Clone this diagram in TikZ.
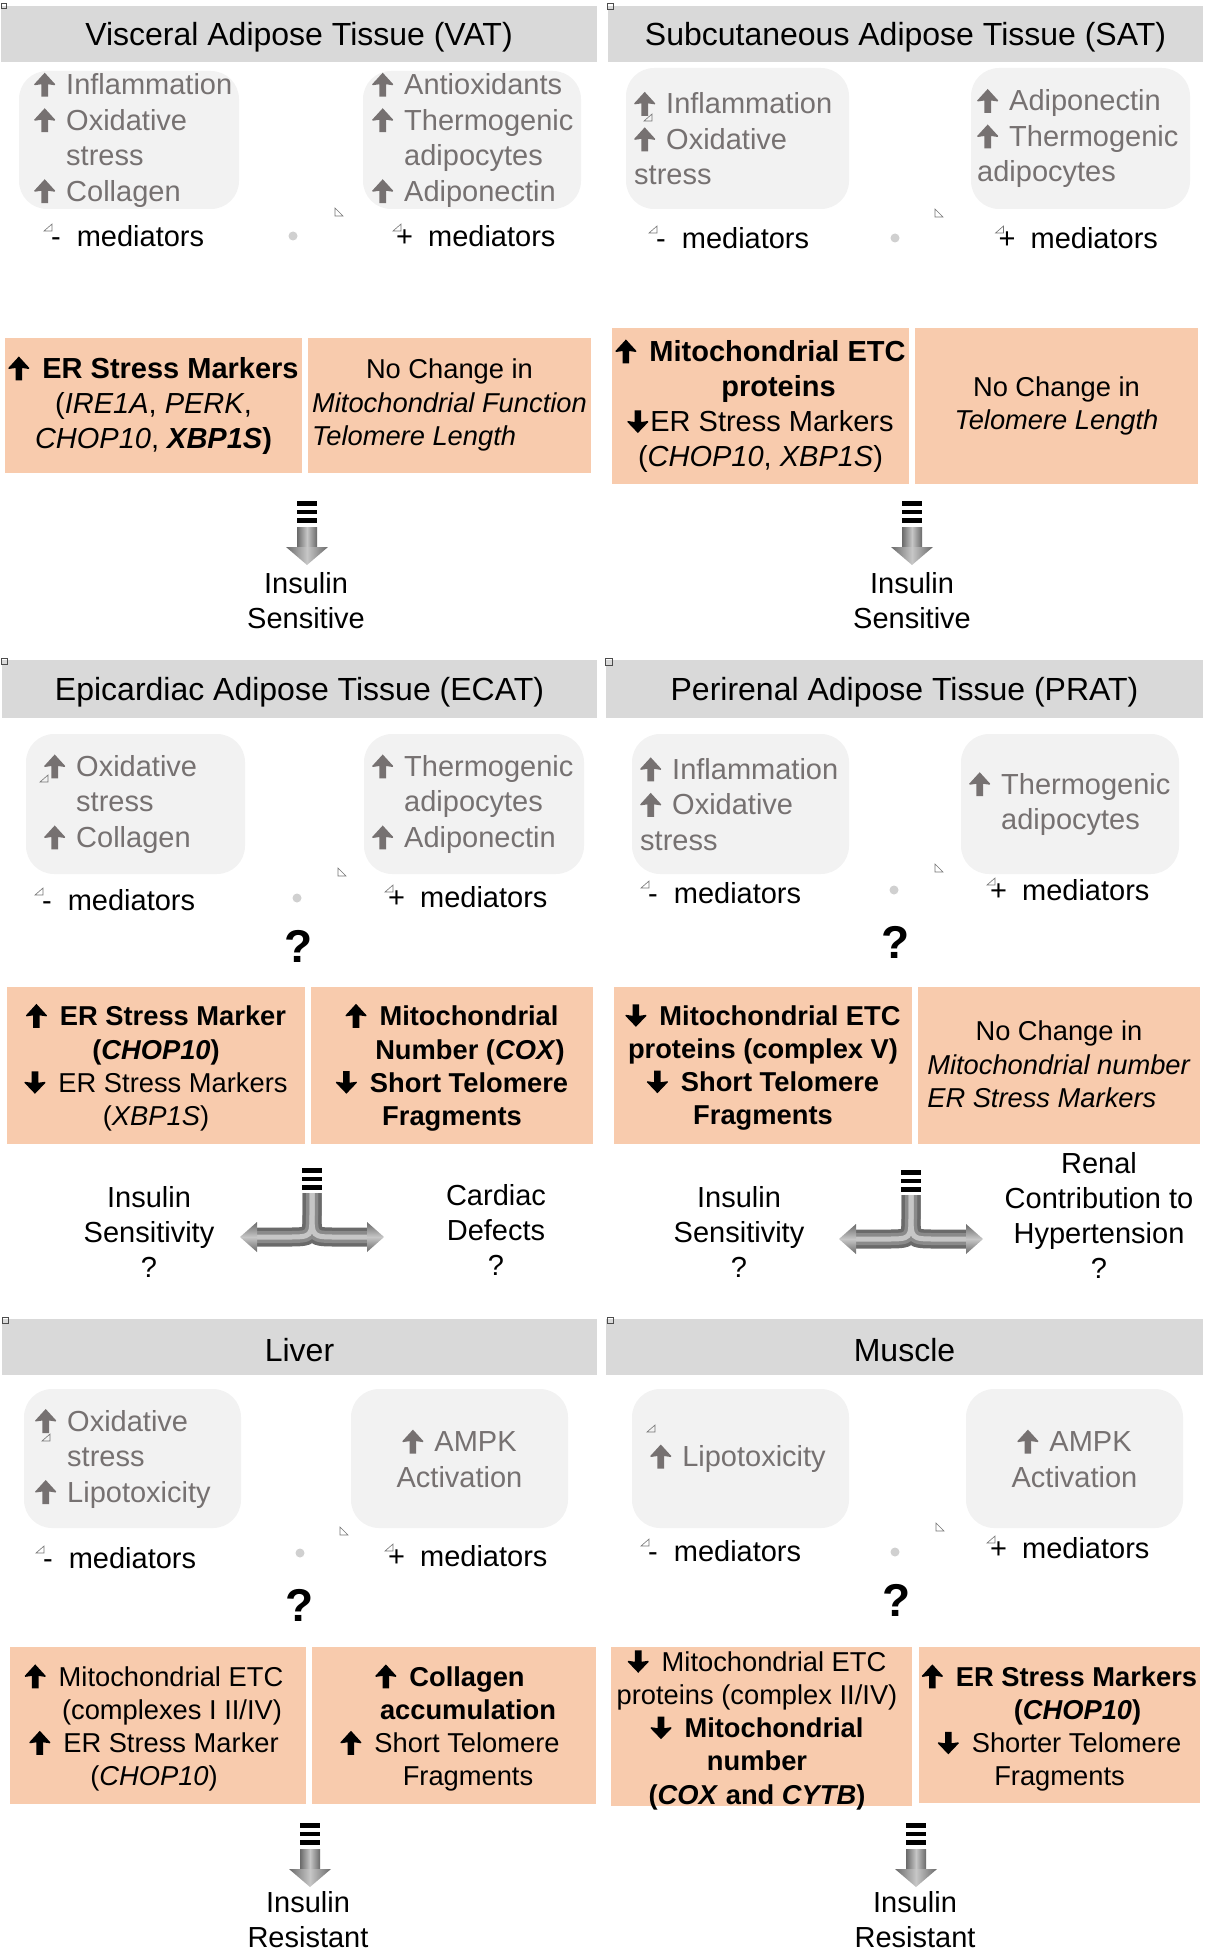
\documentclass[tikz,border=0pt]{standalone}
\usepackage{fontspec}
\setmainfont{Liberation Sans}
\usetikzlibrary{fit,calc}
\definecolor{hdrgray}{HTML}{D9D9D9}
\definecolor{boxgray}{HTML}{F2F2F2}
\definecolor{txtgray}{HTML}{767171}
\definecolor{peach}{HTML}{F8CBAD}
\definecolor{dotgray}{HTML}{D0D0D0}
\definecolor{arrdark}{HTML}{6A6A6A}
\definecolor{arrmid}{HTML}{8A8A8A}
\definecolor{arrlight}{HTML}{C6C6C6}
\newsavebox\upG
\newsavebox\upK
\newsavebox\dnK
\newcommand\ug{\usebox\upG\hspace{11pt}}
\newcommand\uk{\usebox\upK\hspace{13pt}}
\newcommand\dk{\usebox\dnK\hspace{13pt}}
\newcommand\pp[2]{\pgfpathlineto{\pgfpoint{#1pt}{#2pt}}}
\newcommand\uparrowglyph[1]{%
  \begin{pgfpicture}\pgfsetbaseline{0pt}\pgfsetfillcolor{#1}%
  \pgfpathmoveto{\pgfpoint{7.2pt}{-2pt}}\pp{13.8}{-2}\pp{13.8}{10.5}\pp{20.5}{9.5}\pp{21}{10.5}\pp{10.5}{22}\pp{0}{10.5}\pp{0.5}{9.5}\pp{7.2}{10.5}%
  \pgfpathclose\pgfusepath{fill}\end{pgfpicture}}
\newcommand\downarrowglyph[1]{%
  \begin{pgfpicture}\pgfsetbaseline{0pt}\pgfsetfillcolor{#1}%
  \pgfpathmoveto{\pgfpoint{7.2pt}{21pt}}\pp{13.8}{21}\pp{13.8}{9.5}\pp{20.5}{10.5}\pp{21}{9.5}\pp{10.5}{-1.5}\pp{0}{9.5}\pp{0.5}{10.5}\pp{7.2}{9.5}%
  \pgfpathclose\pgfusepath{fill}\end{pgfpicture}}
\newcommand\stripes{%
  \fill[black] (-10,0) rectangle (10,4.5);
  \fill[black] (-10,8.5) rectangle (10,13);
  \fill[black] (-10,17) rectangle (10,21.5);}
\newcommand\downarrowat[1]{%
  \begin{scope}[shift={(#1)}]
  \stripes
  \shade[left color=arrdark,right color=arrdark,middle color=arrlight] (-10,26) rectangle (10,46.5);
  \shade[left color=arrdark,right color=arrdark,middle color=arrlight] (-21,46) -- (21,46) -- (0,64) -- cycle;
  \end{scope}}
\newcommand\brancharrowat[1]{%
  \begin{scope}[shift={(#1)}]
  \stripes
  \foreach \w/\c in {19/arrdark,12/arrmid,5/arrlight}{
    \draw[line width=\w pt,\c] (0,25) -- (0,44) .. controls (0,69) .. (-25,69) -- (-56,69);
    \draw[line width=\w pt,\c] (0,25) -- (0,44) .. controls (0,69) .. (25,69) -- (56,69);
  }
  \shade[top color=arrdark,bottom color=arrdark,middle color=arrlight] (-55,54) -- (-55,84) -- (-72,69) -- cycle;
  \shade[top color=arrdark,bottom color=arrdark,middle color=arrlight] (55,54) -- (55,84) -- (72,69) -- cycle;
  \end{scope}}
\newcommand\mtri[2]{\draw[tri] (#1,#2) -- ++(0,7) -- ++(-8,0) -- cycle;}
\newcommand\ctri[2]{\draw[tri] (#1,#2) -- ++(0,8) -- ++(8,0) -- cycle;}
\newcommand\medtri[2]{\draw[tri] ($(#1.west)+(#2,-12)$) -- ++(0,7) -- ++(-8,0) -- cycle;}
\begin{document}
\global\setbox\upG=\hbox{\uparrowglyph{txtgray}}
\global\setbox\upK=\hbox{\uparrowglyph{black}}
\global\setbox\dnK=\hbox{\downarrowglyph{black}}
\begin{tikzpicture}[x=1pt,y=-1pt,
  hdr/.style={fill=hdrgray,inner sep=0},
  htxt/.style={inner sep=0,font=\fontsize{32}{38}\selectfont},
  gbox/.style={fill=boxgray,rounded corners=28pt,inner sep=0},
  gtxt/.style={inner sep=0,text=txtgray,align=left,anchor=west,font=\fontsize{29}{35.5}\selectfont},
  gtxtc/.style={gtxt,align=center,anchor=center},
  pbox/.style={fill=peach,inner sep=0},
  ptxt/.style={inner sep=0,align=center,font=\fontsize{27.3}{33.2}\selectfont},
  ptxtL/.style={inner sep=0,align=center,font=\fontsize{29}{35}\selectfont},
  ptab/.style={inner sep=0,font=\fontsize{27.3}{33.4}\selectfont},
  med/.style={inner sep=0,anchor=west,font=\fontsize{29}{35}\selectfont},
  outc/.style={inner sep=0,align=center,font=\fontsize{29}{35}\selectfont},
  qm/.style={inner sep=0,font=\fontsize{46}{50}\selectfont\bfseries},
  gdot/.style={circle,fill=dotgray,inner sep=0,minimum size=9pt},
  tri/.style={draw=black!55,line width=0.6pt},
  sq/.style={draw=black!70,line width=0.7pt}]
\useasboundingbox (0,0) rectangle (1205,1950);

% ================= VAT =================
\node[hdr,fit={(1,6) (597,62)}] (vatH) {};
\node[htxt] (vatHt) at ($(vatH.center)+(0,3)$) {Visceral Adipose Tissue (VAT)};
\node[gbox,fit={(19,71) (239,209)}] (vatG1) {};
\node[gtxt] (vatG1t) at (34,140) {\ug Inflammation\\\ug Oxidative\\\hspace*{32pt}stress\\\ug Collagen};
\node[gbox,fit={(363,71) (581,209)}] (vatG2) {};
\node[gtxt] (vatG2t) at (372,140) {\ug Antioxidants\\\ug Thermogenic\\\hspace*{32pt}adipocytes\\\ug Adiponectin};
\node[med] (vatM1) at (51,236) {-\hspace{16pt}mediators};
\node[med] (vatM2) at (396,236) {+\hspace{15pt}mediators};
\node[gdot] (vatD) at (293,236) {};
\node[pbox,fit={(5,338) (302,473)}] (vatP1) {};
\node[ptxtL] (vatP1t) at (vatP1.center) {\textbf{\uk ER Stress Markers}\\(\textit{IRE1A}, \textit{PERK},\\\textit{CHOP10}, \textbf{\textit{XBP1S})}};
\node[pbox,fit={(308,338) (591,473)}] (vatP2) {};
\node[ptab] (vatP2t) at (vatP2.center) {\begin{tabular}{@{}l@{}}\multicolumn{1}{@{}c@{}}{No Change in}\\\textit{Mitochondrial Function}\\\textit{Telomere Length}\end{tabular}};
\coordinate (vatA) at (307,501);
\downarrowat{vatA}
\node[outc] (vatO) at (306,601) {Insulin\\Sensitive};

% ================= SAT =================
\node[hdr,fit={(608,6) (1203,62)}] (satH) {};
\node[htxt] (satHt) at ($(satH.center)+(0,3)$) {Subcutaneous Adipose Tissue (SAT)};
\node[gbox,fit={(626,68) (849,209)}] (satG1) {};
\node[gtxt] (satG1t) at (634,138.5) {\ug Inflammation\\\ug Oxidative\\stress};
\node[gbox,fit={(971,68) (1190,209)}] (satG2) {};
\node[gtxt] (satG2t) at (977,138.5) {\ug Adiponectin\\\ug Thermogenic\\adipocytes};
\node[med] (satM1) at (656,238) {-\hspace{16pt}mediators};
\node[med] (satM2) at (998.5,238) {+\hspace{15pt}mediators};
\node[gdot] (satD) at (895,238) {};
\node[pbox,fit={(612,328) (909,484)}] (satP1) {};
\node[ptxtL] (satP1t) at (satP1.center) {\textbf{\uk Mitochondrial ETC}\\\hspace*{36pt}\textbf{proteins}\\\usebox\dnK\hspace{2pt}ER Stress Markers\\(\textit{CHOP10}, \textit{XBP1S})};
\node[pbox,fit={(915,328) (1198,484)}] (satP2) {};
\node[ptxt] (satP2t) at (satP2.center) {No Change in\\\textit{Telomere Length}};
\coordinate (satA) at (912,501);
\downarrowat{satA}
\node[outc] (satO) at (912,601) {Insulin\\Sensitive};

% ================= ECAT =================
\node[hdr,fit={(2,660) (597,718)}] (ecaH) {};
\node[htxt] (ecaHt) at ($(ecaH.center)+(0,3)$) {Epicardiac Adipose Tissue (ECAT)};
\node[gbox,fit={(26,734) (245,874)}] (ecaG1) {};
\node[gtxt] (ecaG1t) at (44,804) {\ug Oxidative\\\hspace*{32pt}stress\\\ug Collagen};
\node[gbox,fit={(364,734) (584,874)}] (ecaG2) {};
\node[gtxt] (ecaG2t) at (372,804) {\ug Thermogenic\\\hspace*{32pt}adipocytes\\\ug Adiponectin};
\node[med] (ecaM1) at (42,900) {-\hspace{16pt}mediators};
\node[med] (ecaM2) at (388,897) {+\hspace{15pt}mediators};
\node[gdot] (ecaD) at (297,898) {};
\node[qm] (ecaQ) at (299,946) {?};
\node[pbox,fit={(7,987) (305,1144)}] (ecaP1) {};
\node[ptxt] (ecaP1t) at ($(ecaP1.center)+(0,2)$) {\textbf{\uk ER Stress Marker}\\\textbf{(\textit{CHOP10})}\\\dk ER Stress Markers\\(\textit{XBP1S})};
\node[pbox,fit={(311,987) (593,1144)}] (ecaP2) {};
\node[ptxt] (ecaP2t) at ($(ecaP2.center)+(0,2)$) {\textbf{\uk Mitochondrial}\\\hspace*{36pt}\textbf{Number (\textit{COX})}\\\textbf{\dk Short Telomere}\\\textbf{Fragments}};
\coordinate (ecaA) at (312,1168);
\brancharrowat{ecaA}
\node[outc] (ecaO1) at (149,1232) {Insulin\\Sensitivity\\?};
\node[outc] (ecaO2) at (496,1230) {Cardiac\\Defects\\?};

% ================= PRAT =================
\node[hdr,fit={(606,660) (1203,718)}] (praH) {};
\node[htxt] (praHt) at ($(praH.center)+(0,3)$) {Perirenal Adipose Tissue (PRAT)};
\node[gbox,fit={(632,734) (849,874)}] (praG1) {};
\node[gtxt] (praG1t) at (640,804) {\ug Inflammation\\\ug Oxidative\\stress};
\node[gbox,fit={(961,734) (1179,874)}] (praG2) {};
\node[gtxt] (praG2t) at (969,804) {\ug Thermogenic\\\hspace*{32pt}adipocytes};
\node[med] (praM1) at (648,893) {-\hspace{16pt}mediators};
\node[med] (praM2) at (990,890) {+\hspace{15pt}mediators};
\node[gdot] (praD) at (894,890) {};
\node[qm] (praQ) at (896,942) {?};
\node[pbox,fit={(614,987) (912,1144)}] (praP1) {};
\node[ptxt] (praP1t) at ($(praP1.center)+(0,2)$) {\textbf{\dk Mitochondrial ETC}\\\textbf{proteins (complex V)}\\\textbf{\dk Short Telomere}\\\textbf{Fragments}};
\node[pbox,fit={(918,987) (1200,1144)}] (praP2) {};
\node[ptab] (praP2t) at ($(praP2.center)+(0,2)$) {\begin{tabular}{@{}l@{}}\multicolumn{1}{@{}c@{}}{No Change in}\\\textit{Mitochondrial number}\\\textit{ER Stress Markers}\end{tabular}};
\coordinate (praA) at (911,1170);
\brancharrowat{praA}
\node[outc] (praO1) at (739,1232) {Insulin\\Sensitivity\\?};
\node[outc] (praO2) at (1099,1215) {Renal\\Contribution to\\Hypertension\\?};

% ================= Liver =================
\node[hdr,fit={(2,1319) (597,1375)}] (livH) {};
\node[htxt] (livHt) at ($(livH.center)+(0,3)$) {Liver};
\node[gbox,fit={(24,1389) (241,1528)}] (livG1) {};
\node[gtxt] (livG1t) at (35,1458.5) {\ug Oxidative\\\hspace*{32pt}stress\\\ug Lipotoxicity};
\node[gbox,fit={(351,1389) (568,1528)}] (livG2) {};
\node[gtxtc] (livG2t) at (livG2.center) {\ug AMPK\\Activation};
\node[med] (livM1) at (43,1558) {-\hspace{16pt}mediators};
\node[med] (livM2) at (388,1556) {+\hspace{15pt}mediators};
\node[gdot] (livD) at (300,1553) {};
\node[qm] (livQ) at (300,1605) {?};
\node[pbox,fit={(10,1647) (306,1804)}] (livP1) {};
\node[ptxt] (livP1t) at (154,1728) {\uk Mitochondrial ETC\\\hspace*{36pt}(complexes I II/IV)\\\uk ER Stress Marker\\(\textit{CHOP10})};
\node[pbox,fit={(312,1647) (596,1804)}] (livP2) {};
\node[ptxt] (livP2t) at (450,1728) {\textbf{\uk Collagen}\\\hspace*{36pt}\textbf{accumulation}\\\uk Short Telomere\\\hspace*{36pt}Fragments};
\coordinate (livA) at (310,1823);
\downarrowat{livA}
\node[outc] (livO) at (308,1919.5) {Insulin\\Resistant};

% ================= Muscle =================
\node[hdr,fit={(606,1319) (1203,1375)}] (musH) {};
\node[htxt] (musHt) at ($(musH.center)+(0,3)$) {Muscle};
\node[gbox,fit={(632,1389) (849,1528)}] (musG1) {};
\node[gtxtc] (musG1t) at (738,1458.5) {\ug Lipotoxicity};
\node[gbox,fit={(966,1389) (1183,1528)}] (musG2) {};
\node[gtxtc] (musG2t) at (musG2.center) {\ug AMPK\\Activation};
\node[med] (musM1) at (648,1551) {-\hspace{16pt}mediators};
\node[med] (musM2) at (990,1548) {+\hspace{15pt}mediators};
\node[gdot] (musD) at (895,1552) {};
\node[qm] (musQ) at (897,1600) {?};
\node[pbox,fit={(611,1647) (912,1806)}] (musP1) {};
\node[ptxt] (musP1t) at (757,1730) {\dk Mitochondrial ETC\\proteins (complex II/IV)\\\textbf{\dk Mitochondrial}\\\textbf{number}\\\textbf{(\textit{COX} and \textit{CYTB})}};
\node[pbox,fit={(919,1647) (1200,1803)}] (musP2) {};
\node[ptxt] (musP2t) at (1059.5,1728) {\textbf{\uk ER Stress Markers}\\\hspace*{36pt}\textbf{(\textit{CHOP10})}\\\dk Shorter Telomere\\Fragments};
\coordinate (musA) at (916,1823);
\downarrowat{musA}
\node[outc] (musO) at (915,1919.5) {Insulin\\Resistant};

% ================= small marks =================
\draw[sq] (1,3) rectangle (6,8);
\draw[sq] (607,3) rectangle (613,9);
\draw[sq] (1,658) rectangle (7,664);
\draw[sq] (605,658) rectangle (612,665);
\draw[sq] (2,1317) rectangle (8,1323);
\draw[sq] (607,1317) rectangle (613,1323);
\medtri{vatM1}{1}  \medtri{vatM2}{5}
\medtri{satM1}{1}  \medtri{satM2}{5}
\medtri{ecaM1}{1}  \medtri{ecaM2}{5}
\medtri{praM1}{1}  \medtri{praM2}{5}
\medtri{livM1}{1}  \medtri{livM2}{5}
\medtri{musM1}{1}  \medtri{musM2}{5}
\ctri{335}{208} \ctri{935}{209} \ctri{338}{868}
\ctri{935}{864} \ctri{340}{1527} \ctri{936}{1523}
\mtri{652}{114} \mtri{48}{775} \mtri{50}{1434} \mtri{655}{1425}
\end{tikzpicture}
\end{document}
